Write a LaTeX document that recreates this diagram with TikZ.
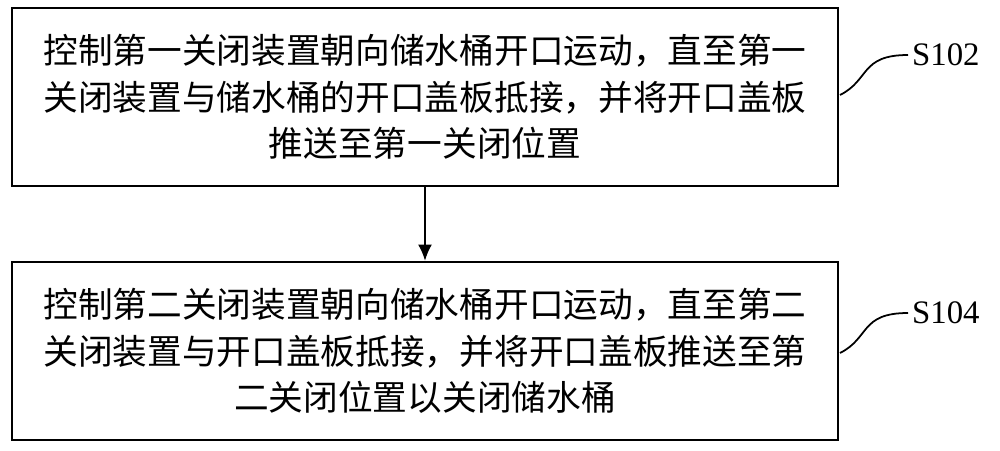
\documentclass[tikz,border=0pt]{standalone}
\usepackage{fontspec}
\usetikzlibrary{arrows.meta}
\newfontfamily\cjk{Noto Sans CJK SC}
\setmainfont{Liberation Serif}
\begin{document}
\begin{tikzpicture}[x=0.03cm,y=-0.03cm,
 box/.style={draw,line width=1.8pt,minimum width=24.78cm,minimum height=5.34cm,inner sep=0,align=center,font=\cjk\fontsize{29.6}{39.7}\selectfont},
 lab/.style={font=\fontsize{28}{30}\selectfont,anchor=west}]
\useasboundingbox (0,0) rectangle (1000,451);
\node[box] (b1) at (425,97) {控制第一关闭装置朝向储水桶开口运动，直至第一\\关闭装置与储水桶的开口盖板抵接，并将开口盖板\\推送至第一关闭位置};
\node[box] (b2) at (425,351) {控制第二关闭装置朝向储水桶开口运动，直至第二\\关闭装置与开口盖板抵接，并将开口盖板推送至第\\二关闭位置以关闭储水桶};
\draw[line width=1.8pt,-{Latex[length=14pt,width=12pt]}] (b1.south) -- (b2.north);
\node[lab] (l1) at (908,55) {S102};
\node[lab] (l2) at (908,313) {S104};
\coordinate (c1) at (840,95);
\coordinate (c2) at (840,353);
\draw[line width=1.5pt] (c1) .. controls (870,80) and (860,55) .. (l1.west);
\draw[line width=1.5pt] (c2) .. controls (870,338) and (860,313) .. (l2.west);
\end{tikzpicture}
\end{document}
